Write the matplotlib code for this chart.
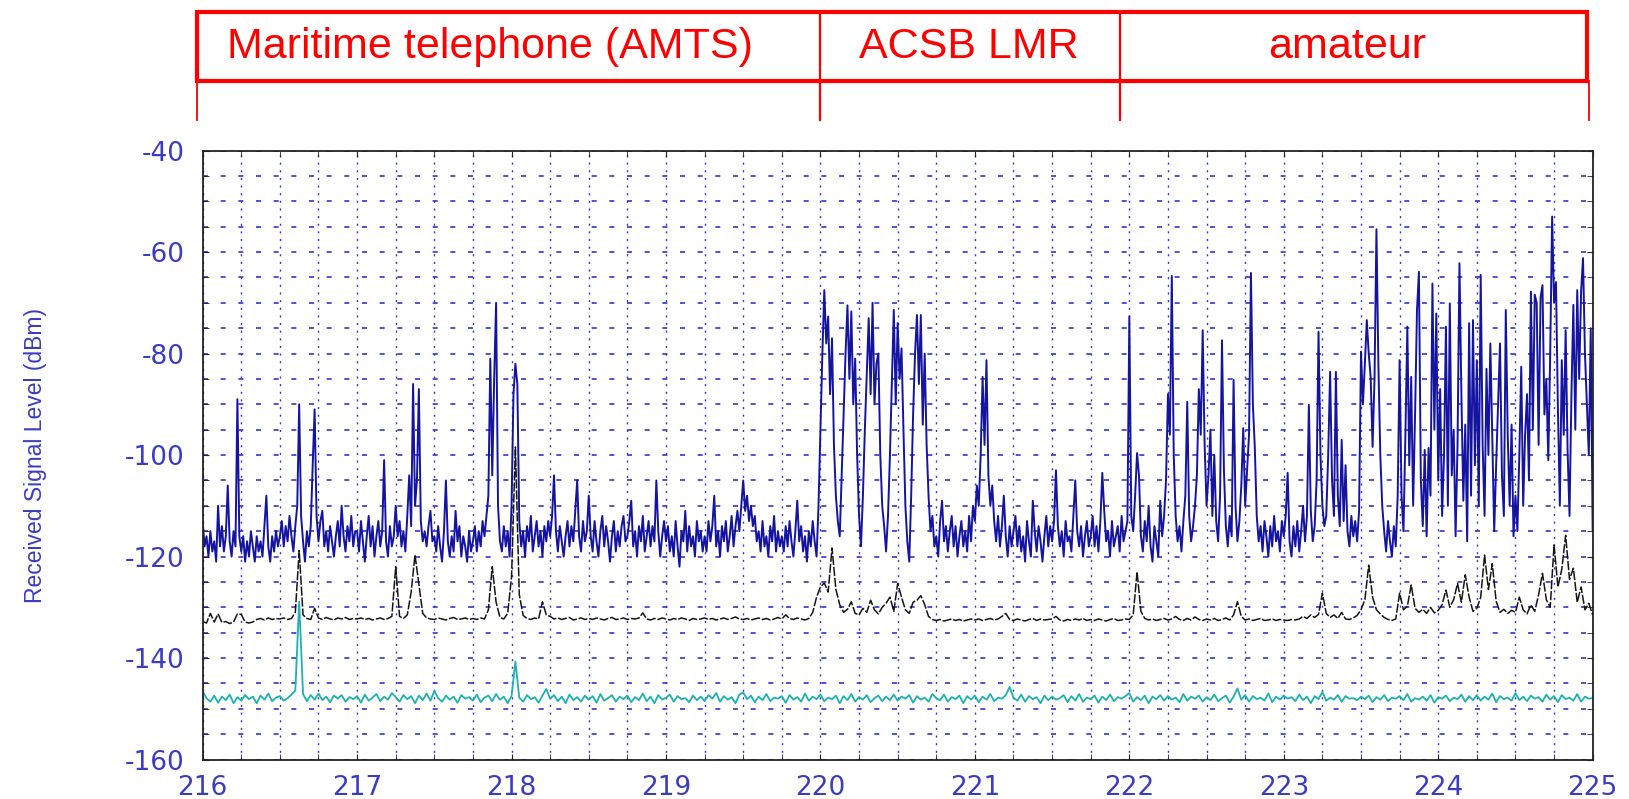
# Received signal level, 216-225 MHz scan (max / mean / min traces)
import numpy as np
import matplotlib
matplotlib.use('Agg')
import matplotlib.pyplot as plt
from matplotlib.patches import Rectangle

# band annotations on top
band_names = ['Maritime telephone (AMTS)', 'ACSB LMR', 'amateur']
band_edges = [216, 220, 222, 225]
label_x = [217.86, 220.96, 223.41]

# max-hold trace, 0.0125 MHz steps, one row per 0.25 MHz grid cell
max_level = [
    -113, -118, -116, -120, -115, -119, -117, -121, -110, -118, -114, -119, -116, -106, -117, -120, -115, -118, -89, -116,
    -119, -116, -121, -117, -120, -115, -118, -121, -116, -119, -117, -120, -114, -108, -118, -121, -116, -119, -115, -118,
    -116, -113, -118, -114, -117, -112, -116, -119, -114, -110, -90, -112, -117, -121, -115, -118, -114, -102, -91, -112,
    -117, -113, -111, -118, -115, -119, -114, -117, -120, -116, -113, -118, -110, -116, -119, -114, -117, -112, -118, -115,
    -115, -119, -113, -117, -121, -116, -112, -118, -114, -120, -116, -113, -118, -115, -101, -117, -120, -114, -118, -116,
    -110, -116, -113, -118, -115, -119, -112, -104, -114, -86, -110, -105, -87, -113, -117, -115, -118, -114, -111, -117,
    -116, -119, -114, -118, -121, -115, -105, -117, -120, -116, -119, -111, -117, -114, -120, -116, -118, -121, -115, -119,
    -117, -114, -119, -115, -118, -113, -116, -112, -108, -81, -104, -85, -70, -110, -117, -119, -114, -118, -115, -120,
    -110, -88, -82, -86, -113, -118, -115, -120, -114, -117, -112, -119, -116, -113, -118, -115, -120, -114, -117, -113,
    -116, -112, -104, -115, -119, -114, -117, -120, -116, -113, -118, -114, -117, -111, -105, -116, -119, -113, -117, -115,
    -108, -116, -119, -113, -117, -120, -115, -112, -118, -114, -117, -121, -116, -113, -119, -115, -118, -114, -112, -117,
    -116, -113, -109, -118, -115, -120, -114, -117, -112, -119, -116, -113, -118, -114, -117, -105, -115, -120, -116, -113,
    -117, -114, -119, -116, -120, -113, -118, -122, -115, -117, -111, -119, -114, -118, -116, -120, -113, -117, -115, -119,
    -116, -119, -113, -117, -114, -108, -118, -115, -120, -114, -117, -113, -119, -116, -112, -118, -114, -111, -115, -110,
    -105, -111, -108, -113, -110, -114, -112, -117, -115, -119, -113, -118, -116, -120, -114, -117, -112, -119, -115, -118,
    -116, -119, -114, -118, -113, -117, -120, -115, -109, -117, -114, -119, -116, -121, -115, -118, -113, -117, -120, -110,
    -95, -80, -67.5, -78, -72.7, -88, -77, -98, -108, -113, -116, -104, -92, -80, -70.5, -85, -71.7, -90, -81, -100,
    -112, -118, -108, -95, -84, -73, -88, -70, -90, -82, -80, -100, -110, -114, -119, -112, -100, -86, -71.4, -90,
    -74, -85, -79, -95, -110, -117, -121, -108, -92, -80, -72.4, -86, -72.4, -94, -80, -98, -108, -115, -112, -118,
    -116, -120, -113, -109, -117, -114, -119, -115, -112, -118, -114, -120, -116, -113, -118, -115, -119, -112, -117, -110,
    -113, -106, -110, -100, -84.6, -98, -81.3, -104, -110, -106, -113, -117, -112, -118, -114, -108, -116, -120, -114, -118,
    -115, -112, -118, -114, -119, -116, -121, -113, -117, -120, -109, -115, -119, -114, -117, -121, -116, -112, -118, -114,
    -117, -113, -103, -114, -118, -115, -120, -113, -117, -116, -119, -112, -105, -115, -118, -114, -120, -116, -113, -118,
    -116, -112, -118, -114, -119, -113, -103.5, -111, -117, -115, -120, -113, -118, -116, -114, -119, -112, -117, -115, -113,
    -72.7, -112, -115, -108, -99.6, -104, -116, -119, -113, -117, -110, -118, -121, -114, -117, -120, -109, -116, -112, -105,
    -88, -96, -64.7, -100, -112, -117, -114, -119, -113, -108, -89.5, -112, -117, -114, -110, -104, -87, -96, -75.4, -98,
    -110, -104, -95, -112, -100, -113, -117, -108, -77.4, -103, -114, -118, -112, -116, -85.2, -110, -117, -113, -106, -94.7,
    -110, -103, -96, -64.1, -90, -98.6, -112, -117, -114, -119, -113, -116, -120, -114, -118, -112, -117, -115, -119, -113,
    -116, -112, -103.5, -117, -120, -114, -118, -113, -119, -115, -110, -117, -112, -90.1, -111, -117, -114, -105, -75.7, -100,
    -110, -114, -112, -100, -83.6, -105, -112, -83.6, -108, -114, -97, -113, -102, -115, -118, -112, -116, -113, -117, -111,
    -79.6, -90, -82, -73.4, -80, -84.6, -98.4, -85, -55.5, -82, -100, -110, -115, -119, -113, -117, -120, -114, -118, -108,
    -81.3, -108, -115, -96, -74.7, -102, -84.6, -110, -92, -71.4, -63.9, -105, -114, -99, -116, -98.6, -108, -66.2, -95, -72.1,
    -105, -87, -112, -100, -74.7, -110, -70.1, -104, -95, -116, -98, -62.2, -88, -109, -94, -117, -74, -108, -73.4, -102,
    -81.3, -110, -64.5, -98, -112, -83, -100, -78, -96, -115, -102, -90, -78, -104, -112, -71.4, -96, -110, -94, -116,
    -108, -115, -100, -82.6, -110, -96, -88, -105, -67.8, -95, -68.4, -70, -98, -69, -66.5, -92, -85, -101, -80, -53,
    -70, -65.9, -91, -110, -81.3, -96, -75.4, -99, -112, -88, -70.4, -95, -67.5, -85, -67.8, -61.2, -80, -90, -100, -75,
    -115,
]

# mean trace, 0.025 MHz steps
mean_level = [
    -132.8, -133.1, -131.2, -132.9, -131.3, -133.0, -132.8, -133.2, -132.9, -131.3,
    -131.4, -132.9, -133.1, -132.9, -132.4, -132.2, -132.5, -132.1, -132.4, -132.2,
    -132.3, -132.1, -132.4, -132.2, -131.0, -118.8, -131.5, -132.2, -132.4, -130.2,
    -132.1, -132.4, -132.0, -132.3, -132.5, -132.1, -132.3, -132.0, -132.4, -132.2,
    -132.3, -132.1, -132.4, -132.2, -132.5, -132.3, -132.1, -132.4, -132.2, -131.8,
    -122.0, -131.8, -132.2, -131.5, -127.0, -119.7, -125.5, -131.2, -132.1, -132.3,
    -132.4, -132.1, -132.3, -132.5, -132.2, -132.0, -132.4, -132.3, -132.1, -132.4,
    -132.2, -132.4, -132.1, -132.3, -130.5, -122.0, -129.0, -132.0, -132.3, -131.2,
    -124.0, -98.4, -127.5, -131.6, -132.2, -132.4, -132.1, -132.3, -128.9, -131.5,
    -131.8, -132.3, -132.1, -132.4, -132.2, -132.0, -132.5, -132.3, -132.1, -132.4,
    -132.2, -132.4, -132.1, -132.3, -132.5, -132.2, -132.0, -132.4, -132.3, -132.1,
    -132.4, -132.2, -132.3, -132.1, -131.1, -132.3, -132.5, -132.2, -132.4, -132.1,
    -132.3, -132.5, -132.2, -132.4, -132.1, -132.3, -132.6, -132.2, -132.4, -132.3,
    -132.1, -132.4, -132.2, -132.5, -132.3, -132.1, -132.4, -132.2, -131.9, -132.3,
    -132.4, -132.2, -132.5, -132.3, -132.1, -132.4, -132.2, -132.5, -132.3, -132.0,
    -132.3, -131.5, -132.2, -132.4, -132.1, -132.3, -132.5, -132.2, -131.0, -128.0,
    -126.0, -125.2, -127.0, -118.3, -126.5, -129.5, -131.0, -130.4, -128.9, -131.2,
    -131.5, -130.2, -131.0, -128.6, -130.5, -131.3, -130.0, -129.2, -128.0, -130.8,
    -125.3, -128.0, -130.5, -131.2, -129.0, -128.6, -127.7, -129.5, -131.8, -132.4,
    -132.6, -132.4, -132.7, -132.5, -132.3, -132.6, -132.4, -132.7, -132.5, -132.3,
    -132.5, -132.3, -132.6, -132.4, -132.2, -132.5, -132.3, -131.8, -131.2, -132.4,
    -132.6, -132.3, -132.5, -132.7, -132.4, -132.2, -132.6, -132.3, -132.5, -132.4,
    -132.3, -131.8, -132.5, -132.7, -132.4, -132.6, -132.3, -132.5, -132.2, -132.6,
    -132.4, -132.6, -132.3, -132.5, -132.7, -132.4, -132.2, -132.6, -132.5, -132.3,
    -132.4, -131.5, -123.0, -130.8, -132.2, -132.5, -132.3, -132.6, -132.4, -132.2,
    -132.5, -132.3, -131.8, -132.4, -132.6, -132.2, -132.5, -131.9, -132.4, -132.6,
    -132.3, -132.5, -132.2, -132.6, -132.4, -132.1, -132.5, -131.5, -128.9, -131.8,
    -132.5, -132.3, -132.6, -132.4, -132.2, -132.6, -132.5, -132.3, -132.6, -132.4,
    -132.5, -132.6, -132.4, -132.5, -132.3, -131.8, -132.2, -131.5, -132.0, -131.4,
    -127.2, -131.2, -132.0, -131.5, -132.2, -131.0, -132.3, -132.4, -132.1, -131.6,
    -130.5, -128.5, -121.7, -128.0, -130.5, -131.3, -132.0, -132.4, -132.6, -132.3,
    -127.2, -130.5, -129.8, -125.6, -130.2, -131.0, -130.4, -131.2, -130.0, -131.1,
    -130.6, -129.5, -126.6, -130.0, -128.5, -125.3, -129.0, -123.6, -128.0, -130.8,
    -130.2, -128.0, -119.7, -126.5, -121.4, -128.8, -131.0, -130.4, -131.2, -130.6,
    -131.0, -128.0, -130.5, -131.3, -129.5, -130.8, -127.5, -123.3, -128.5, -130.0,
    -117.7, -126.0, -122.5, -115.8, -124.5, -122.3, -129.0, -126.0, -130.5, -129.2,
    -131.5,
]

# min-hold trace, 0.025 MHz steps
min_level = [
    -146.6, -147.9, -148.6, -147.4, -148.8, -147.6, -148.3, -147.2, -148.9, -147.7,
    -148.4, -147.3, -148.1, -147.6, -148.9, -147.4, -148.2, -147.0, -148.5, -147.8,
    -147.5, -148.4, -147.9, -147.2, -146.4, -128.9, -147.1, -148.5, -147.3, -148.2,
    -147.0, -148.3, -147.6, -148.7, -147.4, -148.0, -147.3, -148.6, -147.7, -148.1,
    -147.5, -148.8, -147.2, -148.4, -147.8, -147.1, -148.5, -147.6, -148.2, -146.9,
    -147.7, -148.6, -147.3, -148.1, -147.5, -148.9, -147.4, -148.3, -147.0, -148.4,
    -146.5, -147.9, -148.6, -147.4, -148.2, -147.6, -148.8, -147.3, -148.0, -147.7,
    -148.4, -147.2, -148.7, -147.8, -147.4, -148.5, -147.1, -148.2, -147.6, -148.9,
    -147.5, -140.7, -147.8, -148.6, -147.3, -148.1, -147.7, -148.8, -147.4, -146.1,
    -148.0, -147.3, -148.5, -147.6, -148.9, -147.2, -148.3, -147.7, -148.6, -147.4,
    -148.2, -147.5, -148.8, -147.1, -148.4, -147.9, -147.3, -148.6, -147.6, -148.1,
    -147.4, -148.7, -147.7, -148.3, -147.0, -148.5, -147.6, -148.9, -147.3, -148.2,
    -147.8, -147.2, -148.6, -147.5, -148.1, -147.9, -148.7, -147.4, -148.3, -147.6,
    -148.5, -147.3, -148.0, -146.9, -148.6, -147.5, -148.2, -147.7, -148.9, -147.2,
    -146.8, -148.1, -147.4, -148.7, -147.6, -148.3, -147.1, -148.5, -147.8, -148.0,
    -147.5, -148.8, -147.3, -148.2, -147.7, -148.6, -147.0, -148.4, -147.6, -148.1,
    -147.2, -148.5, -147.8, -148.1, -147.4, -148.9, -147.5, -148.3, -147.1, -148.6,
    -147.7, -148.2, -147.3, -148.7, -147.9, -147.4, -148.5, -147.6, -148.3, -147.2,
    -148.4, -147.6, -148.0, -147.3, -148.8, -147.5, -148.2, -147.8, -148.6, -147.1,
    -147.9, -148.3, -147.2, -148.6, -147.7, -148.1, -147.4, -148.9, -147.5, -148.2,
    -147.4, -148.7, -147.6, -148.2, -147.1, -148.5, -147.8, -148.0, -147.3, -145.7,
    -147.8, -148.4, -147.2, -148.6, -147.5, -148.1, -147.7, -148.9, -147.4, -148.3,
    -147.6, -148.2, -147.9, -147.3, -148.7, -147.5, -148.4, -147.1, -148.6, -147.8,
    -148.1, -147.4, -148.8, -147.6, -148.3, -147.2, -148.5, -147.7, -148.0, -147.5,
    -146.9, -148.6, -147.7, -148.3, -147.4, -148.9, -147.6, -148.1, -147.3, -148.4,
    -147.5, -148.2, -147.8, -148.7, -147.1, -148.4, -147.6, -148.0, -147.4, -148.6,
    -147.7, -148.3, -147.2, -148.5, -147.9, -147.4, -148.8, -147.6, -146.0, -148.2,
    -147.3, -148.6, -147.5, -148.1, -147.8, -148.4, -147.0, -148.7, -147.6, -148.2,
    -147.4, -148.0, -147.7, -148.5, -147.2, -148.3, -147.6, -148.9, -147.5, -148.1,
    -146.7, -148.4, -147.8, -148.2, -147.3, -148.6, -147.5, -148.0, -147.9, -148.3,
    -147.6, -148.1, -147.4, -148.7, -147.7, -148.2, -147.3, -148.5, -147.8, -148.0,
    -147.5, -148.3, -147.1, -148.6, -147.9, -148.2, -147.6, -148.4, -147.3, -148.8,
    -147.7, -148.0, -147.4, -148.5, -147.8, -148.1, -147.2, -148.6, -147.5, -148.3,
    -147.3, -148.4, -147.6, -148.2, -147.0, -148.7, -147.5, -148.1, -147.8, -148.4,
    -146.9, -148.3, -147.6, -148.5, -147.4, -148.0, -147.7, -148.6, -147.2, -148.2,
    -147.5, -148.7, -147.3, -148.1, -147.8, -148.4, -147.1, -148.6, -147.6, -148.0,
    -147.9,
]

freq_fine = np.linspace(216, 225, len(max_level))
freq = np.linspace(216, 225, len(mean_level))

blue = '#1414a0'
label_blue = '#3b3bc4'
grid_blue = '#3434d0'

fig = plt.figure(figsize=(16.29, 7.99), dpi=100)
ax = fig.add_axes([0.1244, 0.0494, 0.8533, 0.7621])

ax.plot(freq_fine, max_level, color=blue, lw=1.4)
ax.plot(freq, mean_level, color='#151515', lw=1.1, dashes=(6, 1.2))
ax.plot(freq, min_level, color='#1fb0b0', lw=1.3)

ax.set_xlim(216, 225)
ax.set_ylim(-160, -40)
ax.set_xticks(np.arange(216, 226, 1))
ax.set_xticks(np.arange(216, 225.01, 0.25), minor=True)
ax.set_yticks(np.arange(-160, -39, 20))
ax.set_yticks(np.arange(-160, -39, 5), minor=True)
ax.set_yticklabels(['-%d' % abs(v) for v in np.arange(-160, -39, 20)])

# matlab-like grid: dotted verticals, dashed horizontals
ax.xaxis.grid(True, which='both', linestyle=(0, (1.5, 4)), color=grid_blue, lw=1.0)
ax.yaxis.grid(True, which='both', linestyle=(0, (3, 7.6)), color=grid_blue, lw=1.2)
ax.tick_params(which='both', direction='in', top=True, right=True, length=4, color='#222222')
ax.tick_params(axis='y', labelsize=19, labelcolor=label_blue, pad=13)
ax.tick_params(axis='x', labelsize=19, labelcolor=label_blue, pad=11)
for s in ax.spines.values():
    s.set_linewidth(1.3)
    s.set_color('#222222')

ax.set_ylabel('Received Signal Level (dBm)', color=label_blue, fontsize=16.5,
              family=['Liberation Sans', 'DejaVu Sans'])
ax.yaxis.set_label_coords(-0.112, 0.5)

# band boxes above the plot (y in pixels from the top of the figure)
tax = fig.add_axes([0.1244, 0.8115, 0.8533, 0.1885])
tax.set_xlim(216, 225)
tax.set_ylim(150.6, 0)
tax.axis('off')
shift = -0.035
tax.add_patch(Rectangle((band_edges[0] + shift, 12), band_edges[-1] - band_edges[0], 69,
                        fill=False, ec='#ff0000', lw=3, clip_on=False))
for e in band_edges[1:-1]:
    tax.plot([e - 0.03 * (e - 220), e - 0.03 * (e - 220)], [12, 120], color='#ff0000', lw=1.6, clip_on=False)
tax.plot([band_edges[0] + shift] * 2, [81, 120], color='#ff0000', lw=1.3, clip_on=False)
tax.plot([band_edges[-1] - 0.025] * 2, [81, 120], color='#ff0000', lw=1.3, clip_on=False)
for name, x in zip(band_names, label_x):
    tax.text(x, 47, name, color='#ff0000', fontsize=31, ha='center', va='center',
             family=['Liberation Sans', 'DejaVu Sans'], clip_on=False)

plt.savefig('out.png', dpi=100)
